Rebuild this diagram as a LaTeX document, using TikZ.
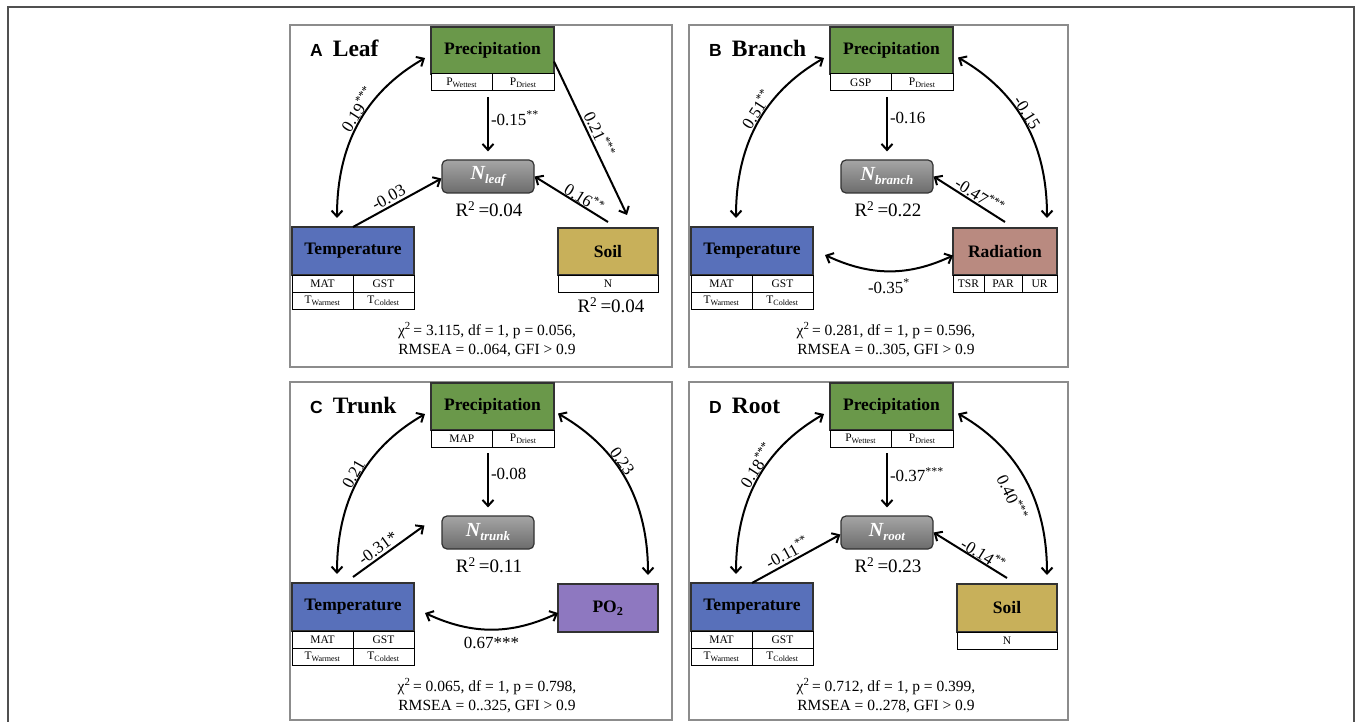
\documentclass[tikz,border=0pt]{standalone}
\usepackage{fontspec}
\setmainfont{Liberation Serif}
\setsansfont{Liberation Sans}
\usetikzlibrary{arrows.meta,calc}
\definecolor{cprec}{RGB}{106,152,74}
\definecolor{ctemp}{RGB}{88,112,186}
\definecolor{csoil}{RGB}{200,176,90}
\definecolor{crad}{RGB}{185,138,128}
\definecolor{cpo}{RGB}{142,120,192}
\definecolor{cntop}{RGB}{165,165,165}
\definecolor{cnbot}{RGB}{108,108,108}
\definecolor{cedge}{RGB}{50,50,50}
\definecolor{cframe}{RGB}{140,140,140}
\definecolor{couter}{RGB}{80,80,80}
\tikzset{
  mainbox/.style={draw=cedge, line width=1.3pt, inner sep=0pt, outer sep=0pt,
    font=\fontsize{17.5}{20}\selectfont\bfseries},
  cellbox/.style={draw=black, line width=1pt, fill=white, inner sep=0pt, outer sep=0pt,
    minimum height=17pt, font=\fontsize{11.5}{12}\selectfont},
  nbox/.style={draw=cedge, line width=1.2pt, rounded corners=5pt, top color=cntop, bottom color=cnbot,
    minimum width=92pt, minimum height=33pt, inner sep=0pt, text=white,
    font=\fontsize{20}{20}\selectfont\bfseries\itshape},
  rtext/.style={inner sep=0pt, font=\fontsize{19}{20}\selectfont},
  lab/.style={inner sep=2pt, font=\fontsize{17}{17}\selectfont},
  fittext/.style={align=center, inner sep=0pt, font=\fontsize{15.5}{19}\selectfont},
  arrs/.style={-{Straight Barb[length=6pt,width=11pt]}, line width=2pt},
  arrd/.style={{Straight Barb[length=6pt,width=11pt]}-{Straight Barb[length=6pt,width=11pt]}, line width=2pt},
  pframe/.style={draw=cframe, line width=2pt},
}
% #1 prefix, #2 P cell1, #3 P cell2, #4 N subscript, #5 R2, #6 letter, #7 word, #8 fit text
\newcommand\panelbase[8]{%
  \node[anchor=base west, inner sep=0pt] (#1title) at (310,57)
    {{\fontsize{17.5}{17}\selectfont\sffamily\bfseries #6}\hspace{10pt}{\fontsize{23.5}{24}\selectfont\bfseries #7}};
  \node[mainbox, fill=cprec, minimum width=123pt, minimum height=47pt] (#1P) at (492.5,50.5) {Precipitation};
  \node[cellbox, minimum width=61.5pt, anchor=north west] (#1Pa) at (#1P.south west) {#2};
  \node[cellbox, minimum width=61.5pt, anchor=north east] (#1Pb) at (#1P.south east) {#3};
  \node[nbox] (#1N) at (488,176.5) {N\raisebox{-4pt}{\fontsize{13}{13}\selectfont #4}};
  \node[rtext] (#1R) at (489,209.5) {R\textsuperscript{2}\,=#5};
  \node[mainbox, fill=ctemp, minimum width=122pt, minimum height=48pt] (#1T) at (353,251) {Temperature};
  \node[cellbox, minimum width=61pt, anchor=north west] (#1Ta) at (#1T.south west) {MAT};
  \node[cellbox, minimum width=61pt, anchor=north east] (#1Tb) at (#1T.south east) {GST};
  \node[cellbox, minimum width=61pt, anchor=north west] (#1Tc) at (#1Ta.south west) {T\textsubscript{Warmest}};
  \node[cellbox, minimum width=61pt, anchor=north east] (#1Td) at (#1Tb.south east) {T\textsubscript{Coldest}};
  \node[fittext] (#1F) at (487,339.5) {#8};
  % Temperature <-> Precipitation
  \draw[arrd] ([shift={(-16pt,9pt)}]#1T.north) to[out=90,in=210] ([shift={(-6pt,-7.5pt)}]#1P.west);
}
\begin{document}
\begin{tikzpicture}[x=1pt,y=-1pt]
\useasboundingbox (0,0) rectangle (1357,722);
\clip (0,0) rectangle (1357,722);
\fill[white] (0,0) rectangle (1357,722);
\draw[line width=1.5pt, couter] (8,7) rectangle (1354,740);
\draw[pframe] (290,25) rectangle (672,367);
\draw[pframe] (689,25) rectangle (1068,367);
\draw[pframe] (290,382) rectangle (672,720);
\draw[pframe] (689,382) rectangle (1068,720);

% ---------------- Panel A ----------------
\begin{scope}
\panelbase{a}{P\textsubscript{Wettest}}{P\textsubscript{Driest}}{leaf}{0.04}{A}{Leaf}
  {χ\textsuperscript{2}\,= 3.115, df = 1, p = 0.056,\\ RMSEA = 0..064, GFI > 0.9}
\node[mainbox, fill=csoil, minimum width=100pt, minimum height=47pt] (aS) at (608,251.5) {Soil};
\node[cellbox, minimum width=100pt, anchor=north] (aSn) at (aS.south) {N};
\node[rtext] (aSR) at (611,305) {R\textsuperscript{2}\,=0.04};
\path[lab] ([shift={(-16pt,9pt)}]aT.north) to[out=90,in=210] node[pos=0.57,sloped,above,inner sep=1pt]{0.19\textsuperscript{***}} ([shift={(-6pt,-7.5pt)}]aP.west);
\draw[arrs, shorten <=6pt, shorten >=8pt] (aN.north |- aPa.south) -- node[lab,pos=0.4,right]{-0.15\textsuperscript{**}} (aN.north);
\draw[arrs] (aT.north) -- node[lab,pos=0.45,sloped,above]{-0.03} ([yshift=-2pt]aN.west);
\draw[arrs] ([yshift=6pt]aS.north) -- node[lab,pos=0.38,sloped,above,inner sep=0pt]{0.16\textsuperscript{**}} (aN.east);
\draw[arrs] ([yshift=-11pt]aP.east) -- node[lab,pos=0.5,sloped,above]{0.21\textsuperscript{***}} ([shift={(19pt,13pt)}]aS.north);
\end{scope}

% ---------------- Panel B ----------------
\begin{scope}[shift={(399,0)}]
\panelbase{b}{GSP}{P\textsubscript{Driest}}{branch}{0.22}{B}{Branch}
  {χ\textsuperscript{2}\,= 0.281, df = 1, p = 0.596,\\ RMSEA = 0..305, GFI > 0.9}
\node[mainbox, fill=crad, minimum width=104pt, minimum height=47pt] (bR) at (606,251.5) {Radiation};
\node[cellbox, minimum width=31pt, anchor=north west] (bRa) at (bR.south west) {TSR};
\node[cellbox, minimum width=38pt, anchor=north west] (bRb) at (bRa.north east) {PAR};
\node[cellbox, minimum width=35pt, anchor=north west] (bRc) at (bRb.north east) {UR};
\path[lab] ([shift={(-16pt,9pt)}]bT.north) to[out=90,in=210] node[pos=0.57,sloped,above,inner sep=1pt]{0.51\textsuperscript{**}} ([shift={(-6pt,-7.5pt)}]bP.west);
\draw[arrs, shorten <=6pt, shorten >=8pt] (bN.north |- bPa.south) -- node[lab,pos=0.4,right]{-0.16} (bN.north);
\draw[arrs] ([yshift=6pt]bR.north) -- node[lab,pos=0.42,sloped,above,inner sep=1pt]{-0.47\textsuperscript{***}} (bN.east);
\draw[arrd] ([shift={(5pt,-7pt)}]bP.east) to[out=-30,in=90] node[lab,pos=0.45,sloped,above,inner sep=0pt]{-0.15} ([shift={(42pt,10pt)}]bR.north);
\draw[arrd] ([shift={(12pt,-4pt)}]bT.east) to[out=-25,in=205] node[lab,midway,below=5pt]{-0.35\textsuperscript{*}} ([yshift=-4pt]bR.west);
\end{scope}

% ---------------- Panel C ----------------
\begin{scope}[shift={(0,356)}]
\panelbase{c}{MAP}{P\textsubscript{Driest}}{trunk}{0.11}{C}{Trunk}
  {χ\textsuperscript{2}\,= 0.065, df = 1, p = 0.798,\\ RMSEA = 0..325, GFI > 0.9}
\node[mainbox, fill=cpo, minimum width=100pt, minimum height=48pt] (cO) at (608,252) {PO\textsubscript{2}};
\path[lab] ([shift={(-16pt,9pt)}]cT.north) to[out=90,in=210] node[pos=0.52,sloped,above,inner sep=1pt]{0.21} ([shift={(-6pt,-7.5pt)}]cP.west);
\draw[arrs, shorten <=6pt, shorten >=8pt] (cN.north |- cPa.south) -- node[lab,pos=0.4,right]{-0.08} (cN.north);
\draw[arrs] ([yshift=6pt]cT.north) -- node[lab,pos=0.42,sloped,above]{-0.31*} ([shift={(-17pt,7pt)}]cN.west);
\draw[arrd] ([shift={(4pt,-7pt)}]cP.east) to[out=-30,in=90] node[lab,pos=0.4,sloped,above,inner sep=0pt]{0.23} ([shift={(40pt,9pt)}]cO.north);
\draw[arrd] ([shift={(11pt,-6pt)}]cT.east) to[out=-25,in=205] node[lab,midway,below=5pt]{0.67***} ([yshift=-5pt]cO.west);
\end{scope}

% ---------------- Panel D ----------------
\begin{scope}[shift={(399,356)}]
\panelbase{d}{P\textsubscript{Wettest}}{P\textsubscript{Driest}}{root}{0.23}{D}{Root}
  {χ\textsuperscript{2}\,= 0.712, df = 1, p = 0.399,\\ RMSEA = 0..278, GFI > 0.9}
\node[mainbox, fill=csoil, minimum width=100pt, minimum height=48pt] (dS) at (608,252) {Soil};
\node[cellbox, minimum width=100pt, anchor=north] (dSn) at (dS.south) {N};
\path[lab] ([shift={(-16pt,9pt)}]dT.north) to[out=90,in=210] node[pos=0.57,sloped,above,inner sep=1pt]{0.18\textsuperscript{***}} ([shift={(-6pt,-7.5pt)}]dP.west);
\draw[arrs, shorten <=6pt, shorten >=8pt] (dN.north |- dPa.south) -- node[lab,pos=0.4,right]{-0.37\textsuperscript{***}} (dN.north);
\draw[arrs] (dT.north) -- node[lab,pos=0.45,sloped,above]{-0.11\textsuperscript{**}} ([yshift=-2pt]dN.west);
\draw[arrs] ([yshift=6pt]dS.north) -- node[lab,pos=0.38,sloped,above,inner sep=0pt]{-0.14\textsuperscript{**}} (dN.east);
\draw[arrd] ([shift={(5pt,-7pt)}]dP.east) to[out=-30,in=90] node[lab,pos=0.55,sloped,below=9pt]{0.40\textsuperscript{***}} ([shift={(40pt,9pt)}]dS.north);
\end{scope}
\end{tikzpicture}
\end{document}
